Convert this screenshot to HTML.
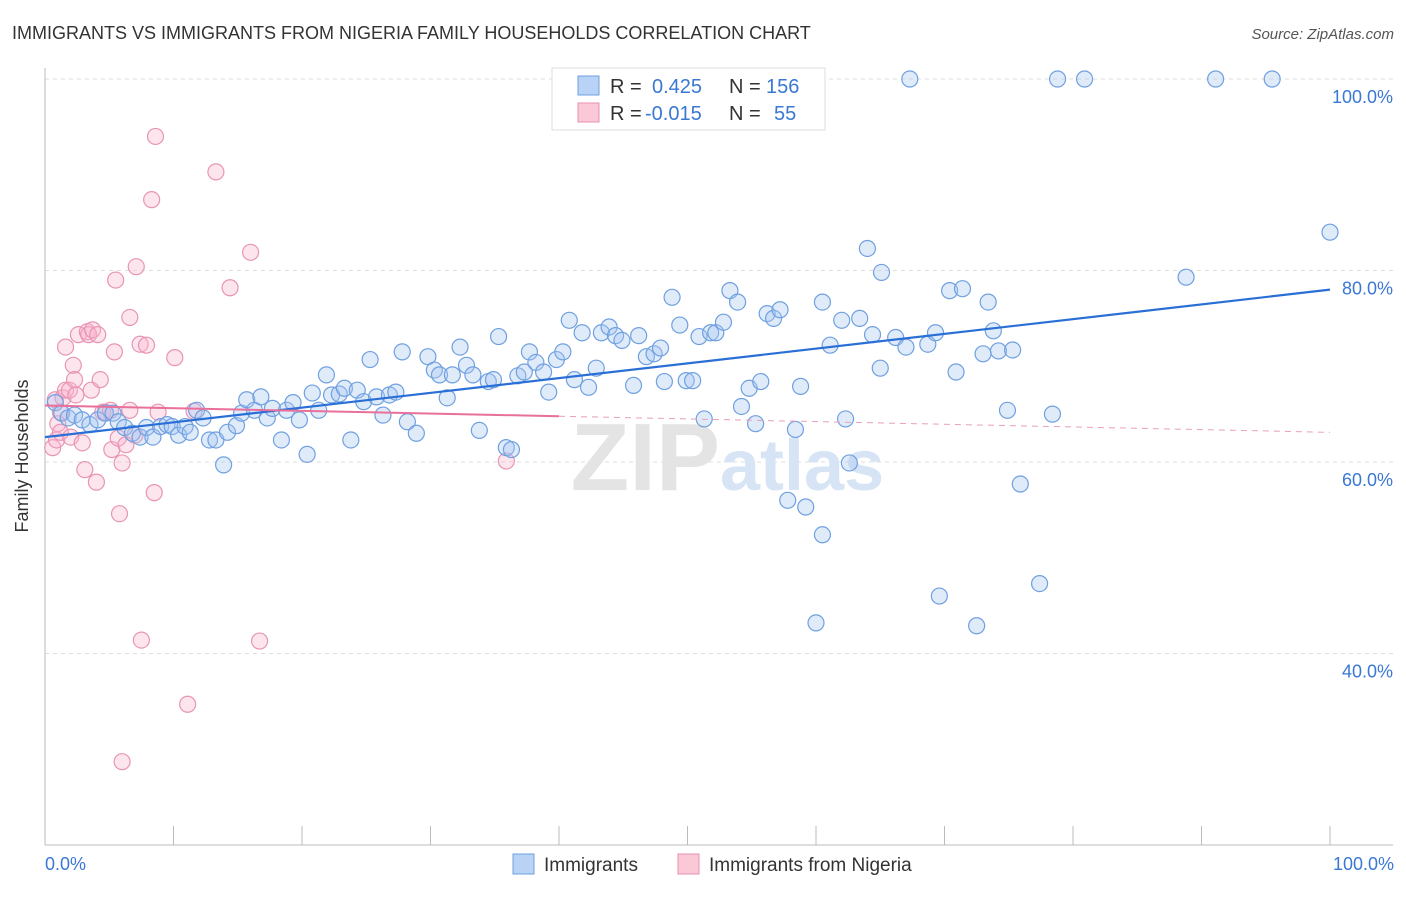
<!DOCTYPE html>
<html><head><meta charset="utf-8"><style>
body{margin:0;background:#fff;font-family:"Liberation Sans",sans-serif;}
svg text{font-family:"Liberation Sans",sans-serif;}
</style></head><body>
<svg id="chart" width="1406" height="892">
<text x="12" y="39" font-size="18" fill="#333">IMMIGRANTS VS IMMIGRANTS FROM NIGERIA FAMILY HOUSEHOLDS CORRELATION CHART</text>
<text x="1394" y="39" font-size="15" fill="#555" text-anchor="end" font-style="italic">Source: ZipAtlas.com</text>
<g id="grid"></g>
<text x="720" y="490" font-size="96" fill="#e4e4e4" font-family="Liberation Serif" text-anchor="end" font-weight="bold">ZIP</text>
<text x="720" y="490" font-size="72" fill="#d6e4f5" font-weight="bold">atlas</text>
<g id="pts"></g>
<g id="trend"></g>
<text x="28" y="456" font-size="18" fill="#333" text-anchor="middle" transform="rotate(-90 28 456)">Family Households</text>
<text x="45" y="870" font-size="18" fill="#3a78d4">0.0%</text>
<text x="1394" y="870" font-size="18" fill="#3a78d4" text-anchor="end">100.0%</text>
<g>
<rect x="552" y="68" width="273" height="62" fill="#fff" stroke="#ddd"/>
<rect x="578" y="76" width="21" height="19" fill="#b8d3f5" stroke="#6fa0e0"/>
<rect x="578" y="103" width="21" height="19" fill="#fbc8d8" stroke="#e890b0"/>
<text x="610" y="93" font-size="20" fill="#333">R = </text><text x="652" y="93" font-size="20" fill="#3a78d4">0.425</text>
<text x="729" y="93" font-size="20" fill="#333">N = </text><text x="766" y="93" font-size="20" fill="#3a78d4">156</text>
<text x="610" y="120" font-size="20" fill="#333">R = </text><text x="645" y="120" font-size="20" fill="#3a78d4">-0.015</text>
<text x="729" y="120" font-size="20" fill="#333">N = </text><text x="774" y="120" font-size="20" fill="#3a78d4">55</text>
</g>
<g>
<rect x="513" y="854" width="21" height="20" fill="#b8d3f5" stroke="#6fa0e0"/>
<text x="544" y="871" font-size="19" fill="#333">Immigrants</text>
<rect x="678" y="854" width="21" height="20" fill="#fbc8d8" stroke="#e890b0"/>
<text x="709" y="871" font-size="19" fill="#333">Immigrants from Nigeria</text>
</g>
</svg>
<script>
const yTicks=[100,80,60,40];
const yTickLabels=["100.0%","80.0%","60.0%","40.0%"];
const xTicks=[0,10,20,30,40,50,60,70,80,90,100];
const blueX=[0.8,1.3,1.8,2.3,2.9,3.5,4.1,4.7,5.3,5.7,6.2,6.8,7.4,7.9,8.4,9.0,9.5,9.9,10.4,10.9,11.3,11.8,12.3,12.8,13.3,13.9,14.2,14.9,15.3,15.7,16.3,16.8,17.3,17.7,18.4,18.8,19.3,19.8,20.4,20.8,21.3,21.9,22.3,22.9,23.3,23.8,24.3,24.8,25.3,25.8,26.3,26.8,27.3,27.8,28.2,28.9,29.8,30.3,30.7,31.3,31.7,32.3,32.8,33.3,33.8,34.5,34.9,35.3,35.9,36.3,36.8,37.3,37.7,38.2,38.8,39.2,39.8,40.3,40.8,41.2,41.8,42.3,42.9,43.3,43.9,44.4,44.9,45.8,46.2,46.8,47.4,47.9,48.2,48.8,49.4,49.9,50.4,50.9,51.3,51.8,52.2,52.8,53.3,53.9,54.2,54.8,55.3,55.7,56.2,56.7,57.2,57.8,58.4,58.8,59.2,60.0,60.5,60.5,61.1,62.0,62.3,62.6,63.4,64.0,64.4,65.0,65.1,66.2,67.0,67.3,68.7,69.3,69.6,70.4,70.9,71.4,72.5,73.0,73.4,73.8,74.2,74.9,75.3,75.9,77.4,78.4,78.8,80.9,88.8,91.1,95.5,100];
const blueY=[66.2,65.1,64.6,64.9,64.4,63.9,64.4,65.1,65.1,64.2,63.6,63.0,62.6,63.6,62.6,63.7,63.9,63.7,62.8,63.7,63.1,65.4,64.6,62.3,62.3,59.7,63.1,63.8,65.1,66.5,65.4,66.8,64.6,65.6,62.3,65.4,66.2,64.4,60.8,67.2,65.4,69.1,67.0,67.1,67.7,62.3,67.5,66.3,70.7,66.8,64.9,67.0,67.3,71.5,64.2,63.0,71.0,69.6,69.1,66.7,69.1,72.0,70.1,69.1,63.3,68.4,68.6,73.1,61.5,61.3,69.0,69.4,71.5,70.4,69.4,67.3,70.7,71.5,74.8,68.6,73.5,67.8,69.8,73.5,74.1,73.2,72.7,68.0,73.2,71.0,71.3,71.9,68.4,77.2,74.3,68.5,68.5,73.1,64.5,73.5,73.5,74.6,77.9,76.7,65.8,67.7,64.0,68.4,75.5,75.0,75.9,56.0,63.4,67.9,55.3,43.2,76.7,52.4,72.2,74.8,64.5,59.9,75.0,82.3,73.3,69.8,79.8,73.0,72.0,100,72.3,73.5,46.0,77.9,69.4,78.1,42.9,71.3,76.7,73.7,71.6,65.4,71.7,57.7,47.3,65.0,100,100,79.3,100,100,84.0];
const pinkX=[0.6,0.8,0.9,1.0,1.2,1.4,1.6,1.6,1.9,2.0,2.2,2.3,2.4,2.6,2.9,3.1,3.3,3.4,3.6,3.7,4.0,4.1,4.3,4.5,4.7,5.1,5.2,5.4,5.5,5.7,5.8,6.0,6.3,6.6,7.0,7.1,7.4,7.5,7.9,8.3,8.5,8.6,8.8,10.1,11.1,11.6,13.3,14.4,16.0,16.7,6.0,35.9,6.6,1.2];
const pinkY=[61.5,66.5,62.3,64.0,63.1,66.7,72.0,67.5,67.5,62.6,70.1,68.6,67.0,73.3,62.0,59.2,73.6,73.3,67.5,73.8,57.9,73.3,68.6,65.2,65.2,65.4,61.3,71.5,79.0,62.5,54.6,59.9,61.8,75.1,62.8,80.4,72.3,41.4,72.2,87.4,56.8,94.0,65.2,70.9,34.7,65.3,90.3,78.2,81.9,41.3,28.7,60.1,65.4,65.2];
const blueTrend=[62.6,78.0];
const pinkTrend=[65.9,63.1];
const pinkSolidEnd=40;

const NS="http://www.w3.org/2000/svg";
const X0=45,X1=1330,YT=79,PX=9.575;
function sx(v){return X0+(X1-X0)*v/100;}
function sy(v){return YT+(100-v)*PX;}
function mk(tag,attrs,parent){const e=document.createElementNS(NS,tag);for(const k in attrs)e.setAttribute(k,attrs[k]);parent.appendChild(e);return e;}
const grid=document.getElementById('grid');
yTicks.forEach((t,i)=>{
  const l=mk('line',{x1:45,x2:1393,y1:sy(t),y2:sy(t),stroke:'#ddd','stroke-dasharray':'4,4'},grid);
  
  
  const tx=mk('text',{x:1393,y:sy(t)+24,'font-size':18,fill:'#3a78d4','text-anchor':'end'},grid);
  tx.textContent=yTickLabels[i];
  
  
});
const ax=mk('line',{x1:45,x2:45,y1:68,y2:845,stroke:'#bbb'},grid);


const bx=mk('line',{x1:45,x2:1393,y1:845,y2:845,stroke:'#bbb'},grid);


xTicks.forEach(t=>{
  const l=mk('line',{x1:sx(t),x2:sx(t),y1:826,y2:845,stroke:'#bbb'},grid);
  
  
});
const pts=document.getElementById('pts');
pinkX.forEach((x,i)=>{
  const c=mk('circle',{cx:sx(x),cy:sy(pinkY[i]),r:8,fill:'rgba(248,180,205,0.35)',stroke:'#e895b4','stroke-width':1.2},pts);
  
  
});
blueX.forEach((x,i)=>{
  const c=mk('circle',{cx:sx(x),cy:sy(blueY[i]),r:8,fill:'rgba(165,198,240,0.35)',stroke:'#6fa0e0','stroke-width':1.2},pts);
  
  
});
const tr=document.getElementById('trend');
const b=mk('line',{x1:sx(0),y1:sy(blueTrend[0]),x2:sx(100),y2:sy(blueTrend[1]),stroke:'#2a6fd6','stroke-width':2.2},tr);


const pm=pinkTrend[0]+(pinkTrend[1]-pinkTrend[0])*pinkSolidEnd/100;
const p1=mk('line',{x1:sx(0),y1:sy(pinkTrend[0]),x2:sx(pinkSolidEnd),y2:sy(pm),stroke:'#e8709a','stroke-width':2},tr);


const p2=mk('line',{x1:sx(pinkSolidEnd),y1:sy(pm),x2:sx(100),y2:sy(pinkTrend[1]),stroke:'#e8a0b8','stroke-width':1,'stroke-dasharray':'6,5'},tr);


</script>
</body></html>
